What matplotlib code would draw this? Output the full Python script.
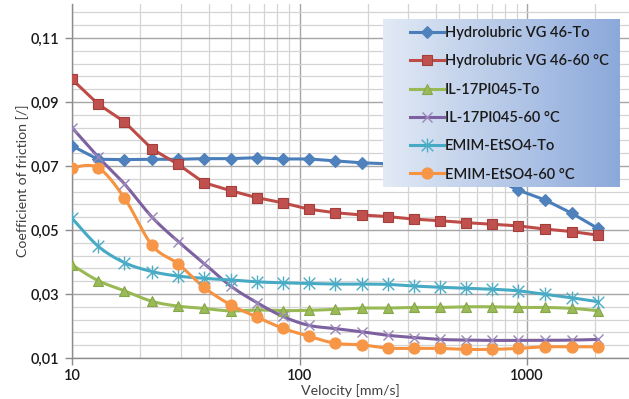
import numpy as np
import matplotlib
matplotlib.use("Agg")
import matplotlib.pyplot as plt
from matplotlib.ticker import FixedLocator, FuncFormatter, NullFormatter
from matplotlib.path import Path
from matplotlib.lines import Line2D

plt.rcParams["font.family"] = ["Lato", "DejaVu Sans"]

# Sliding velocity [mm/s]
velocity = [10, 13, 17, 22.5, 29.3, 38, 49.8, 65, 84.4, 110, 143.5, 187.5,
            244, 318, 415, 540, 700, 912, 1200, 1577, 2048]

# Coefficient of friction [/]
hydro_to = [0.0763, 0.0721, 0.0720, 0.0721, 0.0721, 0.0723, 0.0723, 0.0726,
            0.0722, 0.0722, 0.0716, 0.0710, 0.0707, 0.0703, 0.0697, 0.0688,
            0.0665, 0.0625, 0.0594, 0.0552, 0.0505]
hydro_60 = [0.0971, 0.0894, 0.0838, 0.0753, 0.0705, 0.0648, 0.0623, 0.0601,
            0.0585, 0.0565, 0.0554, 0.0547, 0.0542, 0.0534, 0.0529, 0.0523,
            0.0518, 0.0513, 0.0503, 0.0495, 0.0484]
il_to = [0.0391, 0.0342, 0.0310, 0.0277, 0.0262, 0.0255, 0.0247, 0.0250,
         0.0248, 0.0249, 0.0252, 0.0256, 0.0256, 0.0258, 0.0258, 0.0260,
         0.0260, 0.0258, 0.0258, 0.0255, 0.0248]
il_60 = [0.0820, 0.0729, 0.0644, 0.0540, 0.0464, 0.0396, 0.0325, 0.0273,
         0.0230, 0.0202, 0.0192, 0.0182, 0.0171, 0.0164, 0.0158, 0.0156,
         0.0155, 0.0155, 0.0155, 0.0156, 0.0158]
emim_to = [0.0537, 0.0450, 0.0398, 0.0370, 0.0356, 0.0349, 0.0344, 0.0338,
           0.0335, 0.0333, 0.0331, 0.0331, 0.0330, 0.0325, 0.0321, 0.0318,
           0.0315, 0.0310, 0.0299, 0.0288, 0.0276]
emim_60 = [0.0695, 0.0695, 0.0600, 0.0452, 0.0394, 0.0321, 0.0266, 0.0228,
           0.0193, 0.0168, 0.0146, 0.0141, 0.0131, 0.0130, 0.0130, 0.0127,
           0.0127, 0.0130, 0.0135, 0.0135, 0.0135]

labels = ["Hydrolubric VG 46-To", "Hydrolubric VG 46-60 °C", "IL-17PI045-To",
          "IL-17PI045-60 °C", "EMIM-EtSO4-To", "EMIM-EtSO4-60 °C"]

# asterisk marker: an "x" with a vertical bar through it
star_path = Path(
    [(-0.5, -0.5), (0.5, 0.5), (-0.5, 0.5), (0.5, -0.5), (0, -0.6), (0, 0.6)],
    [Path.MOVETO, Path.LINETO, Path.MOVETO, Path.LINETO, Path.MOVETO, Path.LINETO],
)


def smooth_curve(xs, ys, n=24):
    """Catmull-Rom path through the points, in log-x space."""
    lx = np.log10(np.asarray(xs, float))
    y = np.asarray(ys, float)
    px, py = [], []
    m = len(lx)
    for i in range(m - 1):
        i0, i3 = max(i - 1, 0), min(i + 2, m - 1)
        t = np.linspace(0, 1, n, endpoint=(i == m - 2))
        for arr, out in ((lx, px), (y, py)):
            p0, p1, p2, p3 = arr[i0], arr[i], arr[i + 1], arr[i3]
            out.extend(0.5 * (2 * p1 + (-p0 + p2) * t
                              + (2 * p0 - 5 * p1 + 4 * p2 - p3) * t ** 2
                              + (-p0 + 3 * p1 - 3 * p2 + p3) * t ** 3))
    return 10 ** np.array(px), np.array(py)


series = [
    # values, line colour, marker, marker size, face, edge, smoothed
    (hydro_to, "#4A7EBB", "D", 6.0, "#4F81BD", "#4F81BD", False),
    (hydro_60, "#BE4B48", "s", 7.5, "#C0504D", "#A33E3B", False),
    (il_to, "#98B954", "^", 7.5, "#9BBB59", "#86A64A", True),
    (il_60, "#7D60A0", "x", 7.0, "#9a86b8", "#9a86b8", True),
    (emim_to, "#46AAC5", star_path, 10.0, "#4BACC6", "#4BACC6", True),
    (emim_60, "#F69240", "o", 8.0, "#F79646", "#F79646", True),
]

fig = plt.figure(figsize=(6.29, 3.99), dpi=100)
ax = fig.add_axes([72 / 629, 1 - 358 / 399, 1 - 72 / 629, 354 / 399])

handles = []
for (vals, lc, mk, ms, mfc, mec, smooth), lab in zip(series, labels):
    if smooth:
        sx, sy = smooth_curve(velocity, vals)
    else:
        sx, sy = velocity, vals
    ax.plot(sx, sy, color=lc, lw=2.2, solid_joinstyle="round", zorder=3)
    mew = 1.0 if mk in ("x",) or mk is star_path else 0.8
    ax.plot(velocity, vals, ls="none", marker=mk, ms=ms, mfc=mfc, mec=mec,
            mew=mew, zorder=4)
    handles.append(Line2D([], [], color=lc, lw=2.2, marker=mk, ms=ms,
                          mfc=mfc, mec=mec, mew=mew))

ax.set_xscale("log")
ax.set_xlim(10, 10 ** (1 + 557 / 227.5))
ax.set_ylim(0.01, 0.01 + 354 * 0.02 / 64)

ax.xaxis.set_major_locator(FixedLocator([10, 100, 1000]))
ax.xaxis.set_major_formatter(FuncFormatter(lambda v, p: f"{v:.0f}"))
minor_x = [m * d for d in (10, 100, 1000) for m in range(2, 10)]
ax.xaxis.set_minor_locator(FixedLocator(minor_x))
ax.xaxis.set_minor_formatter(NullFormatter())

major_y = [0.01, 0.03, 0.05, 0.07, 0.09, 0.11]
ax.yaxis.set_major_locator(FixedLocator(major_y))
ax.yaxis.set_minor_locator(FixedLocator(
    [0.01 + 0.004 * k for k in range(28) if k % 5 != 0]))
ax.yaxis.set_major_formatter(
    FuncFormatter(lambda v, p: f"{v:.2f}".replace(".", ",")))

ax.grid(which="major", color="#a6a6a6", lw=1.0, zorder=0)
ax.grid(which="minor", color="#d4d4d4", lw=0.9, zorder=0)
ax.set_axisbelow(True)

for s in ("top", "right"):
    ax.spines[s].set_visible(False)
for s in ("left", "bottom"):
    ax.spines[s].set_color("#8c8c8c")
    ax.spines[s].set_linewidth(1.0)

ax.tick_params(which="major", length=5, width=1, color="#8c8c8c",
               labelsize=10.5, labelcolor="#1a1a1a")
ax.tick_params(axis="x", which="major", pad=3)
ax.tick_params(axis="y", which="major", pad=4)
ax.tick_params(which="minor", length=0)
for lbl in ax.get_xticklabels() + ax.get_yticklabels():
    lbl.set_fontweight("semibold")

ax.set_ylabel("Coefficient of friction [/]", fontsize=10.2, color="#404040",
              labelpad=1)
ax.set_xlabel("Velocity [mm/s]", fontsize=10.2, color="#404040", labelpad=0.5)

# Legend panel with a horizontal blue gradient
lax = fig.add_axes([383 / 629, 1 - 187 / 399, 236 / 629, 168 / 399], zorder=5)
grad = np.linspace(0, 1, 256)[None, :, None]
c0 = np.array([0xe2, 0xea, 0xf5]) / 255
c1 = np.array([0x8c, 0xa9, 0xdb]) / 255
lax.imshow(c0 + (c1 - c0) * grad, aspect="auto", extent=(0, 1, 0, 1))
lax.set_axis_off()
leg = lax.legend(handles, labels, loc="upper left",
                 bbox_to_anchor=(27 / 236, 1 - 7 / 168), frameon=False,
                 fontsize=10.5, handlelength=2.3, handletextpad=0.1,
                 labelspacing=0.98, borderpad=0, borderaxespad=0)
for t in leg.get_texts():
    t.set_color("#1a1a1a")
    t.set_fontweight("semibold")

fig.savefig("out.png", dpi=100)
